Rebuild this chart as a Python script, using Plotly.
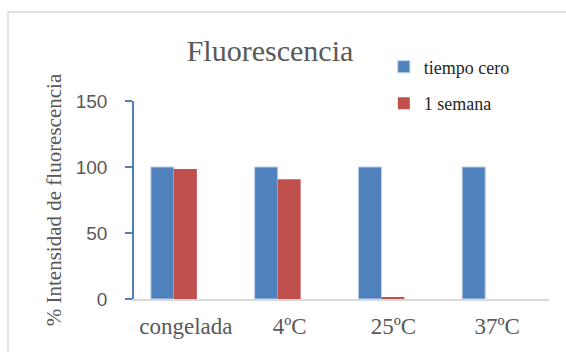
import plotly.graph_objects as go

categories = ["congelada", "4ºC", "25ºC", "37ºC"]
tiempo_cero = [100, 100, 100, 100]
una_semana = [98.5, 90.7, 1.0, 0.0]
y_ticks = [0, 50, 100, 150]

blue = "#4F81BD"
red = "#C0504D"
grey_txt = "#595959"
serif = "Liberation Serif"

fig = go.Figure()
fig.add_trace(go.Bar(
    x=categories, y=tiempo_cero, name="tiempo cero",
    marker=dict(color=blue, line=dict(color="#B9CDE5", width=1)),
    width=0.222, offset=-0.337, legendgroup="a"))
fig.add_trace(go.Bar(
    x=categories, y=una_semana, name="1 semana",
    marker=dict(color=red, line=dict(width=0)),
    width=0.222, offset=-0.116, legendgroup="b"))

fig.update_layout(
    width=566, height=352,
    margin=dict(l=134, r=17, t=101, b=53),
    paper_bgcolor="white", plot_bgcolor="white",
    barmode="overlay",
    font=dict(family=serif),
    title=dict(text="Fluorescencia", x=270/566, xanchor="center", xref="container",
               y=1-50/352, yanchor="middle", yref="container",
               font=dict(family=serif, size=30, color=grey_txt)),
    showlegend=True,
    legend=dict(x=0.602, y=1.265, xanchor="left", yanchor="top",
                font=dict(family=serif, size=18, color="#262626"),
                tracegroupgap=10, bgcolor="rgba(0,0,0,0)", itemclick=False),
    xaxis=dict(type="category", range=[-0.5, 3.5], showgrid=False,
               showline=True, linecolor="#D9D9D9", linewidth=1.5,
               ticks="", tickfont=dict(family=serif, size=23, color=grey_txt),
               ticklabelstandoff=6),
    yaxis=dict(range=[0, 150], tickvals=y_ticks, showgrid=False, zeroline=False,
               showline=True, linecolor=blue, linewidth=1.5,
               ticks="outside", ticklen=7, tickcolor=blue, tickwidth=1.5,
               ticklabelstandoff=14,
               tickfont=dict(family="Liberation Sans", size=19, color=grey_txt),
               title=dict(text="% Intensidad de fluorescencia", standoff=8,
                          font=dict(family=serif, size=21, color=grey_txt))),
    shapes=[dict(type="rect", xref="paper", yref="paper",
                 x0=(8-134)/415, x1=1.2, y0=-0.5, y1=(299-12)/198,
                 line=dict(color="#D9D9D9", width=1.5), fillcolor="rgba(0,0,0,0)",
                 layer="below")],
)

fig.write_html("out.html")
